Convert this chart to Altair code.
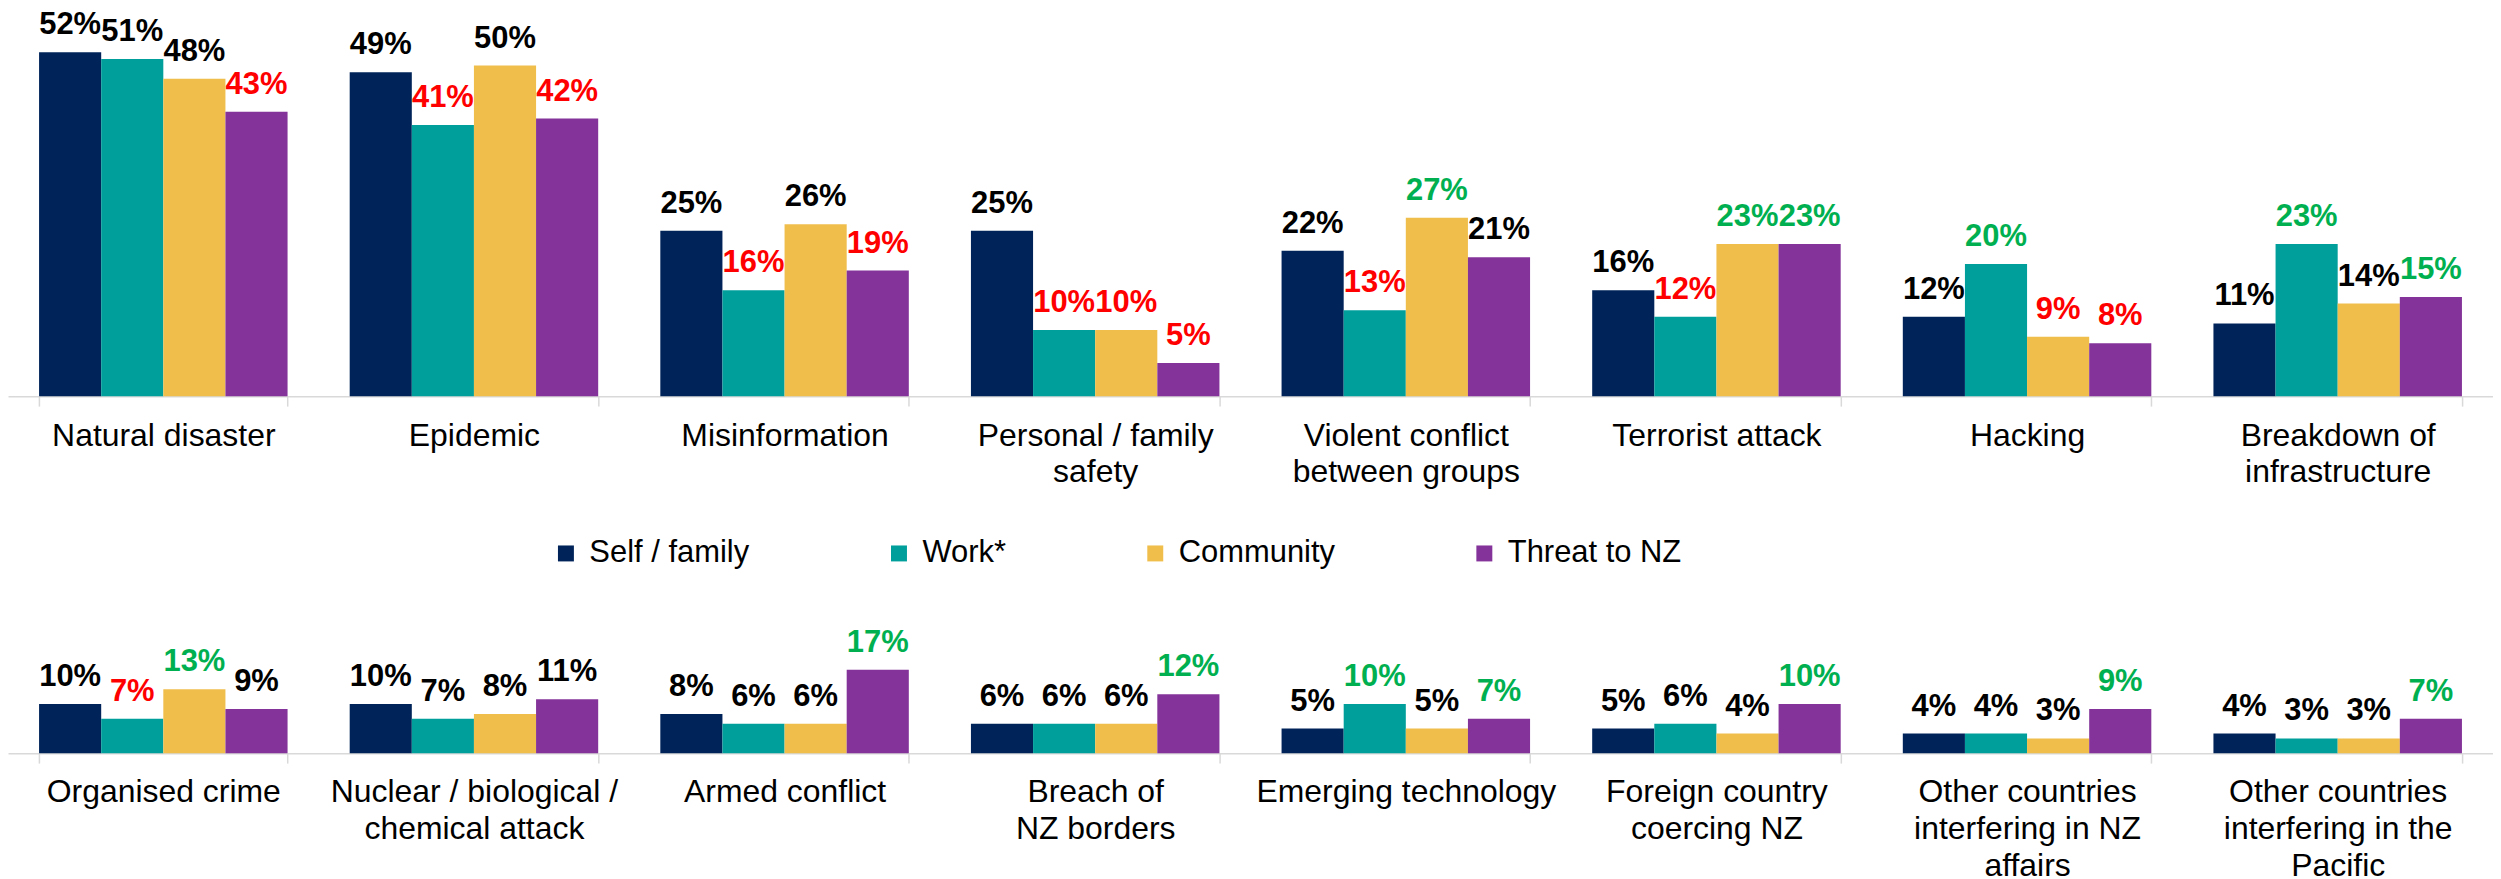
import altair as alt
import pandas as pd

FONT = "Liberation Sans, Arial, sans-serif"

series = ["Self / family", "Work*", "Community", "Threat to NZ"]
series_colors = ["#00245a", "#009f9b", "#f0be4b", "#833399"]

# "|" marks a line break in the category label
top_categories = [
    "Natural disaster", "Epidemic", "Misinformation", "Personal / family|safety",
    "Violent conflict|between groups", "Terrorist attack", "Hacking",
    "Breakdown of|infrastructure",
]
top_self = [52, 49, 25, 25, 22, 16, 12, 11]
top_work = [51, 41, 16, 10, 13, 12, 20, 23]
top_community = [48, 50, 26, 10, 27, 23, 9, 14]
top_threat = [43, 42, 19, 5, 21, 23, 8, 15]
# label colour codes: k = black, r = red (significantly lower), g = green (higher)
top_self_flag = ["k", "k", "k", "k", "k", "k", "k", "k"]
top_work_flag = ["k", "r", "r", "r", "r", "r", "g", "g"]
top_community_flag = ["k", "k", "k", "r", "g", "g", "r", "k"]
top_threat_flag = ["r", "r", "r", "r", "k", "g", "r", "g"]

bottom_categories = [
    "Organised crime", "Nuclear / biological /|chemical attack", "Armed conflict",
    "Breach of|NZ borders", "Emerging technology", "Foreign country|coercing NZ",
    "Other countries|interfering in NZ|affairs", "Other countries|interfering in the|Pacific",
]
bottom_self = [10, 10, 8, 6, 5, 5, 4, 4]
bottom_work = [7, 7, 6, 6, 10, 6, 4, 3]
bottom_community = [13, 8, 6, 6, 5, 4, 3, 3]
bottom_threat = [9, 11, 17, 12, 7, 10, 9, 7]
bottom_self_flag = ["k", "k", "k", "k", "k", "k", "k", "k"]
bottom_work_flag = ["r", "k", "k", "k", "g", "k", "k", "k"]
bottom_community_flag = ["g", "k", "k", "k", "k", "k", "k", "k"]
bottom_threat_flag = ["k", "k", "g", "g", "g", "g", "g", "g"]

flag_colors = {"k": "#000000", "r": "#ff0000", "g": "#00b050"}


def make_frame(cats, value_lists, flag_lists):
    rows = []
    for s, vals, flags in zip(series, value_lists, flag_lists):
        for c, v, f in zip(cats, vals, flags):
            rows.append({"category": c, "series": s, "value": v,
                         "label": f"{v}%", "lc": flag_colors[f]})
    return pd.DataFrame(rows)


top_df = make_frame(top_categories,
                    [top_self, top_work, top_community, top_threat],
                    [top_self_flag, top_work_flag, top_community_flag, top_threat_flag])
bottom_df = make_frame(bottom_categories,
                       [bottom_self, bottom_work, bottom_community, bottom_threat],
                       [bottom_self_flag, bottom_work_flag, bottom_community_flag, bottom_threat_flag])

W = 2492


def panel(df, cats, height, ymax):
    x = alt.X("category:N", sort=cats,
              scale=alt.Scale(paddingInner=0.2, paddingOuter=0.1),
              axis=alt.Axis(title=None, labelAngle=0, labelFontSize=32, labelFont=FONT,
                            labelColor="#000000", labelLineHeight=36.7, labelLimit=0,
                            labelExpr="split(datum.label, '|')",
                            tickBand="extent", tickSize=10, tickWidth=1.5,
                            tickColor="#d9d9d9", domainColor="#d9d9d9", domainWidth=1.5,
                            labelPadding=14, grid=False))
    xo = alt.XOffset("series:N", sort=series,
                     scale=alt.Scale(domain=series, paddingInner=0, paddingOuter=0))
    y = alt.Y("value:Q", scale=alt.Scale(domain=[0, ymax]), axis=None)
    bars = alt.Chart(df).mark_bar().encode(
        x=x, xOffset=xo, y=y,
        color=alt.Color("series:N", sort=series,
                        scale=alt.Scale(domain=series, range=series_colors),
                        legend=alt.Legend(title=None, orient="none", legendX=544, legendY=530,
                                          direction="horizontal", symbolType="square",
                                          symbolSize=256, symbolStrokeWidth=0,
                                          labelFontSize=31, labelFont=FONT,
                                          labelColor="#000000", labelOffset=8,
                                          columnPadding=134, labelLimit=0, padding=0)),
    )
    text = alt.Chart(df).mark_text(font=FONT, fontSize=31, fontWeight="bold",
                                   baseline="alphabetic", align="center", dy=-18).encode(
        x=x, xOffset=xo, y=y,
        text="label:N",
        fill=alt.Fill("lc:N", scale=None),
    )
    return alt.layer(bars, text).properties(width=W, height=height)


top = panel(top_df, top_categories, 388, 388 / 6.63)
bottom = panel(bottom_df, bottom_categories, 130, 130 / 4.92)

chart = alt.vconcat(top, bottom, spacing=228, bounds="flush").properties(
    padding=0
).configure(font=FONT).configure_view(stroke=None)

chart.save("out.html", embed_options={"renderer": "svg", "actions": False})
